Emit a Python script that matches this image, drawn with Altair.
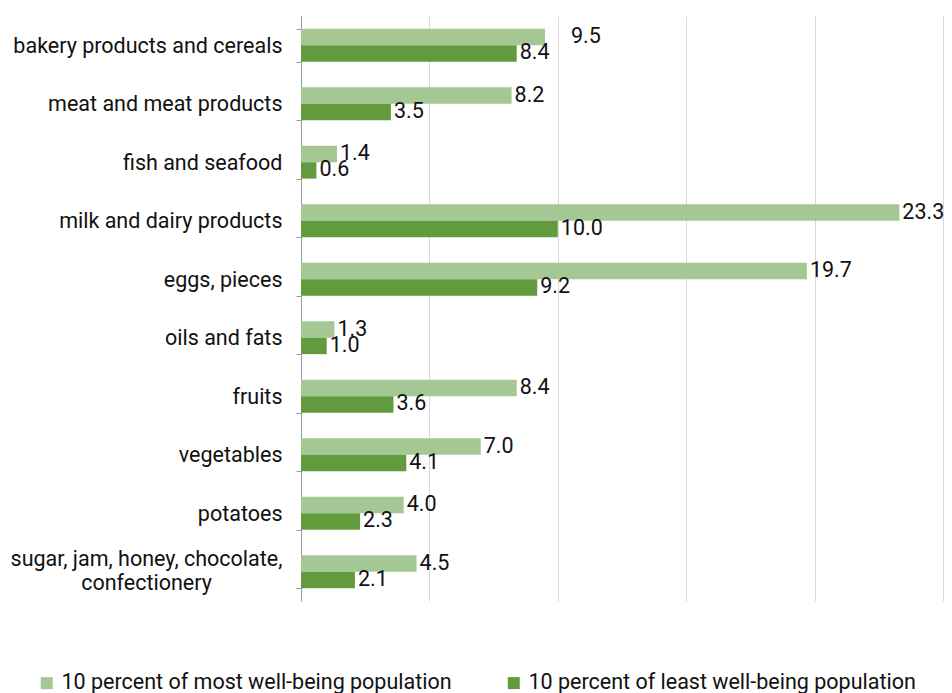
import altair as alt
import pandas as pd

categories = [
    "bakery products and cereals",
    "meat and meat products",
    "fish and seafood",
    "milk and dairy products",
    "eggs, pieces",
    "oils and fats",
    "fruits",
    "vegetables",
    "potatoes",
    "sugar, jam, honey, chocolate, confectionery",
]
most = [9.5, 8.2, 1.4, 23.3, 19.7, 1.3, 8.4, 7.0, 4.0, 4.5]
least = [8.4, 3.5, 0.6, 10.0, 9.2, 1.0, 3.6, 4.1, 2.3, 2.1]
series = [
    "10 percent of most well-being population",
    "10 percent of least well-being population",
]
colors = ["#A5C794", "#629B3E"]
grid_values = [0, 5, 10, 15, 20, 25]

rows = []
for c, m, l in zip(categories, most, least):
    rows.append({"category": c, "series": series[0], "value": m})
    rows.append({"category": c, "series": series[1], "value": l})
df = pd.DataFrame(rows)
df["label"] = df["value"].map(lambda v: f"{v:.1f}")

LONG = "sugar, jam, honey, chocolate, confectionery"
label_expr = (
    "datum.value == '" + LONG + "' ? "
    "['sugar, jam, honey, chocolate,', 'confectionery'] : datum.value"
)
is_long = "datum.value == '" + LONG + "'"

FS = 21.5
TXT = "#111111"

y_enc = alt.Y(
    "category:N",
    sort=categories,
    scale=alt.Scale(paddingInner=0.44, paddingOuter=0.22),
    axis=alt.Axis(
        title=None,
        labelExpr=label_expr,
        labelFontSize=FS,
        labelColor=TXT,
        labelAlign={"condition": {"test": is_long, "value": "center"}, "value": "right"},
        labelPadding={"condition": {"test": is_long, "value": 150}, "value": 14},
        labelOffset={"condition": {"test": is_long, "value": -12}, "value": 1},
        labelLineHeight=24,
        labelLimit=0,
        tickSize=5,
        tickBand="extent",
        tickColor="#999999",
        domainColor="#999999",
        grid=False,
    ),
)
yoff_enc = alt.YOffset("series:N", sort=series, scale=alt.Scale(paddingInner=0, paddingOuter=0))
x_enc = alt.X(
    "value:Q",
    scale=alt.Scale(domain=[0, 25], nice=False),
    axis=alt.Axis(
        title=None,
        labels=False,
        ticks=False,
        domain=False,
        grid=True,
        values=grid_values,
        gridColor="#d9d9d9",
    ),
)

base = alt.Chart(df)

bars = base.mark_bar().encode(
    x=x_enc,
    y=y_enc,
    yOffset=yoff_enc,
    color=alt.Color(
        "series:N",
        sort=series,
        scale=alt.Scale(domain=series, range=colors),
        legend=alt.Legend(
            title=None,
            orient="none",
            direction="horizontal",
            legendX=-265,
            legendY=656,
            symbolType="square",
            symbolSize=144,
            symbolStrokeWidth=0,
            labelFontSize=FS,
            labelColor=TXT,
            labelOffset=4,
            labelLimit=0,
            columnPadding=51,
        ),
    ),
)

cond = "datum.category == 'bakery products and cereals' && datum.series == '" + series[0] + "'"

text_main = base.transform_filter("!(" + cond + ")").mark_text(
    align="left", baseline="middle", dx=3, fontSize=FS, color=TXT
).encode(
    x=alt.X("value:Q"),
    y=alt.Y("category:N", sort=categories),
    yOffset=alt.YOffset("series:N", sort=series),
    text="label:N",
)

text_special = base.transform_filter(cond).mark_text(
    align="left", baseline="middle", dx=26, fontSize=FS, color=TXT
).encode(
    x=alt.X("value:Q"),
    y=alt.Y("category:N", sort=categories),
    yOffset=alt.YOffset("series:N", sort=series),
    text="label:N",
)

chart = (
    alt.layer(bars, text_main, text_special)
    .properties(
        width=642,
        height=585,
        autosize=alt.AutoSizeParams(type="none"),
        padding={"left": 293, "top": 8, "right": 1, "bottom": 92},
    )
    .configure(font="Roboto")
    .configure_view(stroke=None)
)

chart.save("out.html", embed_options={"renderer": "svg", "actions": False})
